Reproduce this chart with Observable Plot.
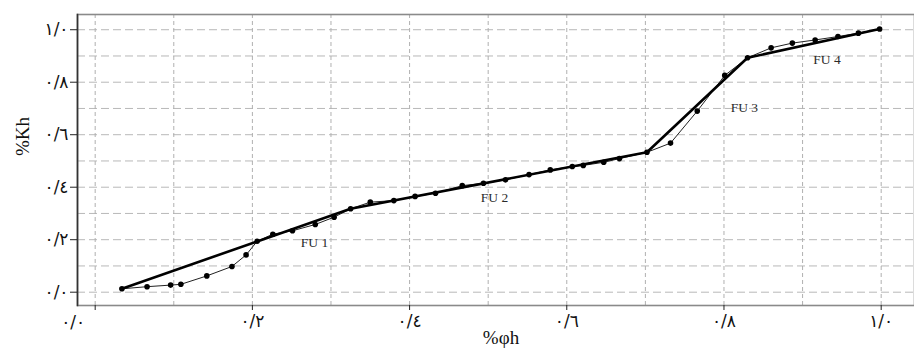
<!DOCTYPE html>
<html>
<head>
<meta charset="utf-8">
<script src="https://cdn.jsdelivr.net/npm/d3@7"></script>
<script src="https://cdn.jsdelivr.net/npm/@observablehq/plot@0.6"></script>
<style>
  html, body { margin: 0; padding: 0; background: #fff; }
  #chart svg { display: block; }
</style>
</head>
<body>
<div id="chart"></div>
<script>
// Measured data (normalized cumulative porosity-thickness vs permeability-thickness)
const phiH = [0.034,0.066,0.096,0.109,0.142,0.174,0.192,0.206,0.226,0.251,0.280,0.304,0.325,0.350,0.380,0.407,0.433,0.467,0.494,0.522,0.552,0.579,0.607,0.621,0.647,0.667,0.702,0.732,0.766,0.801,0.830,0.860,0.887,0.916,0.945,0.971,0.998];
const kH   = [0.013,0.021,0.027,0.030,0.062,0.098,0.142,0.194,0.221,0.234,0.258,0.286,0.318,0.343,0.349,0.365,0.377,0.406,0.415,0.428,0.448,0.466,0.479,0.483,0.495,0.509,0.533,0.568,0.690,0.826,0.893,0.931,0.949,0.961,0.974,0.987,1.003];

// Flow-unit fit (break points)
const fitPhi = [0.034, 0.325, 0.702, 0.830, 0.998];
const fitKh  = [0.013, 0.318, 0.533, 0.893, 1.003];

// Flow-unit labels
const fuNames = ["FU 1", "FU 2", "FU 3", "FU 4"];
const fuPhi   = [0.279, 0.508, 0.826, 0.931];
const fuKh    = [0.189, 0.362, 0.702, 0.885];

// Ticks and grid
const xTicks = [0.0, 0.2, 0.4, 0.6, 0.8, 1.0];
const xTickLabels = ["٠/٠", "٠/٢", "٠/٤", "٠/٦", "٠/٨", "١/٠"];
const yTicks = [0.0, 0.2, 0.4, 0.6, 0.8, 1.0];
const yTickLabels = ["٠/٠", "٠/٢", "٠/٤", "٠/٦", "٠/٨", "١/٠"];
const gridVals = [0.0, 0.1, 0.2, 0.3, 0.4, 0.5, 0.6, 0.7, 0.8, 0.9, 1.0];

const xTitle = "%φh";
const yTitle = "%Kh";

const points = phiH.map((x, i) => ({x, y: kH[i]}));
const fit = fitPhi.map((x, i) => ({x, y: fitKh[i]}));
const fus = fuNames.map((name, i) => ({name, x: fuPhi[i], y: fuKh[i]}));
const xLab = xTicks.map((v, i) => ({v, label: xTickLabels[i]}));
const yFmt = new Map(yTicks.map((v, i) => [v, yTickLabels[i]]));

const tickFont = "DejaVu Sans, sans-serif";
const serif = "Liberation Serif, Times New Roman, serif";

const chart = Plot.plot({
  width: 914,
  height: 352,
  marginLeft: 77,
  marginRight: 0,
  marginTop: 14,
  marginBottom: 47,
  x: {domain: [-0.0225, 1.0424], axis: null, label: null},
  y: {domain: [-0.0507, 1.058], axis: null, label: null},
  style: {background: "#fff", color: "#111"},
  marks: [
    Plot.ruleY(gridVals, {stroke: "#b8b8b8", strokeWidth: 1, strokeDasharray: "8,4"}),
    Plot.ruleX(gridVals, {stroke: "#b0b0b0", strokeWidth: 1, strokeDasharray: "4,3"}),
    Plot.frame({stroke: "#8a8a8a", strokeWidth: 1.6}),
    Plot.frame({anchor: "left", stroke: "#333", strokeWidth: 1.6}),
    Plot.axisY({ticks: yTicks, tickSize: 7, tickPadding: 2, tickFormat: d => yFmt.get(d), label: null,
      fontSize: 17, fontFamily: tickFont, stroke: "#222"}),
    Plot.axisX({ticks: xTicks, tickSize: 5, tickFormat: () => "", label: null, stroke: "#222"}),
    Plot.text(xLab.filter(d => d.v > 0), {x: "v", text: "label", frameAnchor: "bottom", dy: 21,
      fontSize: 17, fontFamily: tickFont, fill: "#111"}),
    Plot.text(xLab.filter(d => d.v === 0), {x: "v", text: "label", frameAnchor: "bottom", dy: 22, dx: -22,
      fontSize: 17, fontFamily: tickFont, fill: "#111"}),
    Plot.line(points, {x: "x", y: "y", stroke: "#222", strokeWidth: 1}),
    Plot.line(fit, {x: "x", y: "y", stroke: "#000", strokeWidth: 2.6}),
    Plot.dot(points, {x: "x", y: "y", r: 2.8, fill: "#000", stroke: "none"}),
    Plot.text(fus, {x: "x", y: "y", text: "name", fontSize: 13.5, fontFamily: serif, fill: "#2a2a2a",
      letterSpacing: 3, textAnchor: "middle"}),
    Plot.text([yTitle], {frameAnchor: "left", dx: -55, dy: -4, rotate: -90, text: d => d,
      fontSize: 19, fontFamily: serif, fill: "#111"}),
    Plot.text([xTitle], {frameAnchor: "bottom", dx: 5, dy: 38, text: d => d,
      fontSize: 19, fontFamily: serif, fill: "#111"})
  ]
});
document.getElementById("chart").appendChild(chart);
</script>
</body>
</html>
